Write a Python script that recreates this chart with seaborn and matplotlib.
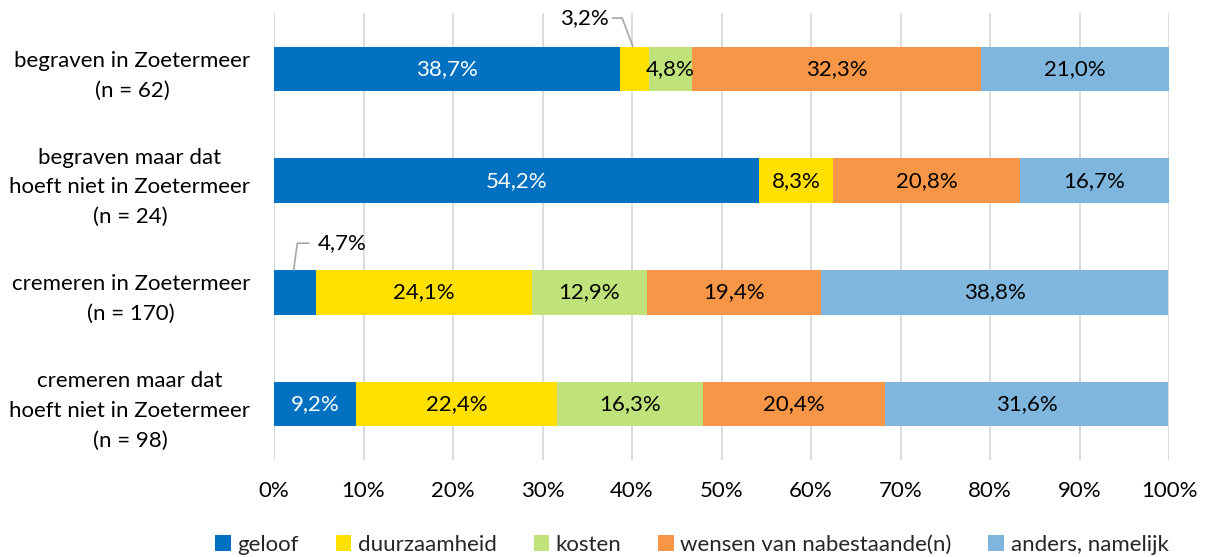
import matplotlib
matplotlib.use("Agg")
import matplotlib.pyplot as plt
from matplotlib.patches import Patch
import seaborn as sns
import pandas as pd
import numpy as np

categories = [
    "begraven in Zoetermeer\n(n = 62)",
    "begraven maar dat\nhoeft niet in Zoetermeer\n(n = 24)",
    "cremeren in Zoetermeer\n(n = 170)",
    "cremeren maar dat\nhoeft niet in Zoetermeer\n(n = 98)",
]
series = ["geloof", "duurzaamheid", "kosten", "wensen van nabestaande(n)", "anders, namelijk"]
geloof = [38.7, 54.2, 4.7, 9.2]
duurzaamheid = [3.2, 8.3, 24.1, 22.4]
kosten = [4.8, 0.0, 12.9, 16.3]
wensen = [32.3, 20.8, 19.4, 20.4]
anders = [21.0, 16.7, 38.8, 31.6]
xtick_values = [0, 10, 20, 30, 40, 50, 60, 70, 80, 90, 100]
xtick_labels = [f"{v}%" for v in xtick_values]

colors = ["#0070C0", "#FFE000", "#C0E27A", "#F79646", "#7FB6DD"]

sns.set_theme(style="white")
plt.rcParams["font.family"] = ["Lato", "DejaVu Sans"]
FS = 16

values = np.array([geloof, duurzaamheid, kosten, wensen, anders]).T  # rows x series
cum = np.cumsum(values, axis=1)
lefts = cum - values

fig = plt.figure(figsize=(12.06, 5.57), dpi=100)
W, H = 1206, 557
ax = fig.add_axes([274 / W, (H - 460) / H, 895 / W, 447 / H])

df = pd.DataFrame({"cat": categories})
for i in range(len(series) - 1, -1, -1):
    df["v"] = cum[:, i]
    sns.barplot(data=df, x="v", y="cat", order=categories, orient="h", color=colors[i],
                saturation=1, width=0.4, ax=ax, errorbar=None, linewidth=0)

ax.set_xlim(0, 100)
ax.set_ylim(3.5, -0.5)
ax.set_xticks(xtick_values)
ax.set_xticklabels(xtick_labels, fontsize=FS, color="#000000")
ax.set_yticks(range(len(categories)))
ax.set_yticklabels(categories, fontsize=FS, color="#000000", multialignment="center",
                   linespacing=1.6)
ax.set_xlabel("")
ax.set_ylabel("")
ax.tick_params(axis="both", length=0)
ax.tick_params(axis="x", pad=15)
ax.tick_params(axis="y", pad=17)
for s in ax.spines.values():
    s.set_visible(False)
ax.set_axisbelow(True)
ax.xaxis.grid(True, color="#d9d9d9", linewidth=1.3)
ax.yaxis.grid(False)

def fmt(v):
    return f"{v:.1f}%".replace(".", ",")

# outside (callout) labels: (row, series) -> label position and leader path (styles)
callouts = {
    (0, 1): dict(text_xy=(34.7, -0.455), path=[(37.8, -0.455), (38.9, -0.455), (40.1, -0.2)]),
    (2, 0): dict(text_xy=(7.6, 1.56), path=[(3.9, 1.56), (2.6, 1.56), (2.2, 1.8)]),
}

for r in range(values.shape[0]):
    for i in range(values.shape[1]):
        v = values[r, i]
        if v <= 0:
            continue
        if (r, i) in callouts:
            c = callouts[(r, i)]
            ax.text(*c["text_xy"], fmt(v), ha="center", va="center", fontsize=FS, color="black")
            xs, ys = zip(*c["path"])
            ax.plot(xs, ys, color="#a6a6a6", linewidth=1.2, clip_on=False)
            continue
        ax.text(lefts[r, i] + v / 2, r, fmt(v), ha="center", va="center", fontsize=FS,
                color="white" if i == 0 else "black")

handles = [Patch(facecolor=c, edgecolor="none") for c in colors]
fig.legend(handles, series, loc="center", bbox_to_anchor=(692 / W, 1 - 545 / H), ncol=5,
           frameon=False, fontsize=FS, handlelength=0.7, handleheight=0.7,
           handletextpad=0.3, columnspacing=1.65, borderaxespad=0)

fig.savefig("out.png", dpi=100)
